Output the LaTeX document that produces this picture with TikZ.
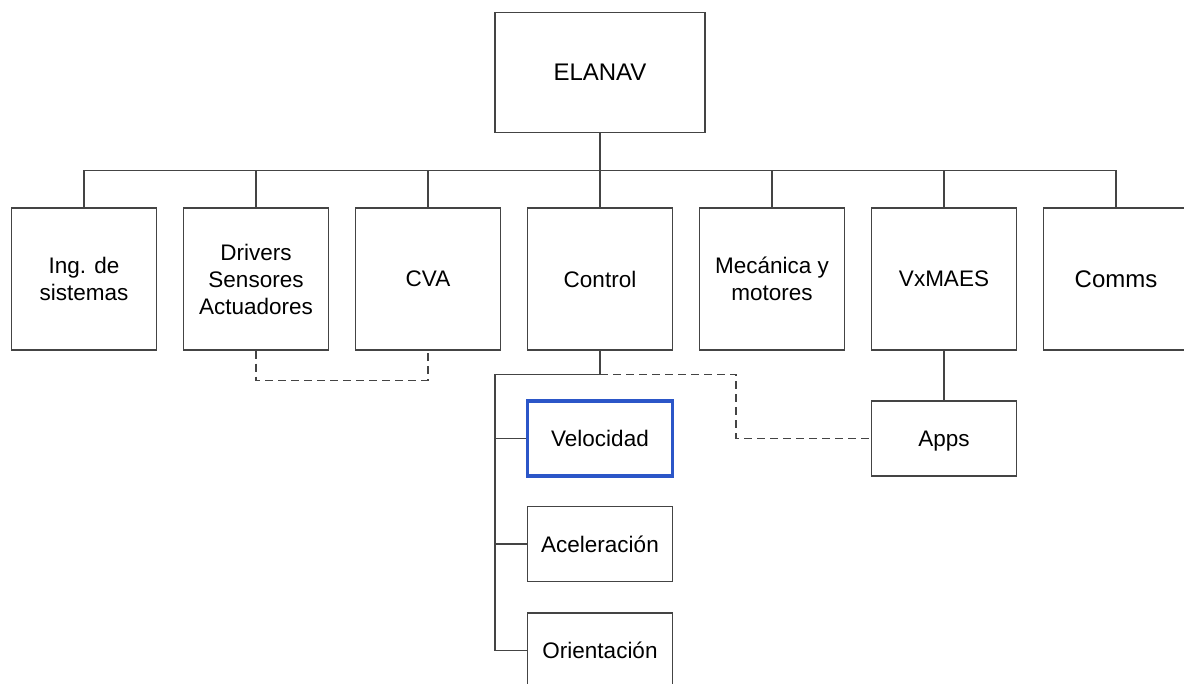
\documentclass[tikz,border=0pt]{standalone}
\usepackage{fontspec}
\setmainfont{Liberation Sans}
\definecolor{linegray}{HTML}{444444}
\definecolor{selblue}{HTML}{2B56C8}
\tikzset{
  unit/.style={draw=linegray, line width=1.5pt, fill=white, minimum width=145pt,
    minimum height=142pt, align=center, inner sep=2pt, font=\fontsize{22.5}{27}\selectfont},
  subunit/.style={unit, minimum height=75pt, text height=16pt, text depth=0pt},
  link/.style={draw=linegray, line width=1.5pt},
  weaklink/.style={link, dash pattern=on 8pt off 5pt},
}
\begin{document}
\begin{tikzpicture}[x=1pt, y=-1pt]
  \useasboundingbox (0,0) rectangle (1184,684);
  \clip (0,0) rectangle (1184,684);

  % top level
  \node[unit, minimum width=210pt, minimum height=120pt, font=\fontsize{24}{29}\selectfont] (elanav) at (600,72.5) {ELANAV};

  % work packages
  \node[unit] (ing)   at (84,279)   {Ing. de\\sistemas};
  \node[unit] (drv)   at (256,279)  {Drivers\\Sensores\\Actuadores};
  \node[unit] (cva)   at (428,279)  {CVA};
  \node[unit] (ctrl)  at (600,279)  {Control};
  \node[unit] (mec)   at (772,279)  {Mecánica y\\motores};
  \node[unit] (vx)    at (944,279)  {VxMAES};
  \node[unit, font=\fontsize{24}{29}\selectfont] (comms) at (1116,279) {Comms};

  % sub-packages
  \node[subunit, draw=selblue, line width=3.5pt] (vel) at (600,438.5) {Velocidad};
  \node[subunit] (acc)  at (600,544)   {Aceleración};
  \node[subunit] (ori)  at (600,650.5) {Orientación};
  \node[subunit] (apps) at (944,438.5) {Apps};

  % bus from the top box to the work packages
  \coordinate (bus) at (600,170.5);
  \draw[link] (elanav.south) -- (ctrl.north);
  \draw[link] (ing.north) |- (bus) -| (comms.north);
  \foreach \n in {drv, cva, mec, vx}
    \draw[link] (\n.north) -- (\n.north |- bus);

  % dashed link between Drivers and CVA
  \coordinate (dv) at (256,380.5);
  \draw[weaklink] (drv.south) -- (dv) -| (cva.south);

  % Control subtree
  \coordinate (cj) at (600,374.5);
  \coordinate (tl) at (495,374.5);
  \coordinate (tb) at (495,650.5);
  \draw[link] (ctrl.south) -- (cj) -- (tl) -- (tb);
  \draw[link] (tl |- vel) -- (vel.west);
  \draw[link] (tl |- acc) -- (acc.west);
  \draw[link] (tb) -- (ori.west);

  % dashed link from Control to Apps
  \coordinate (dk) at (736,374.5);
  \draw[weaklink] (cj) -- (dk) |- (apps.west);

  % VxMAES to Apps
  \draw[link] (vx.south) -- (apps.north);
\end{tikzpicture}
\end{document}
